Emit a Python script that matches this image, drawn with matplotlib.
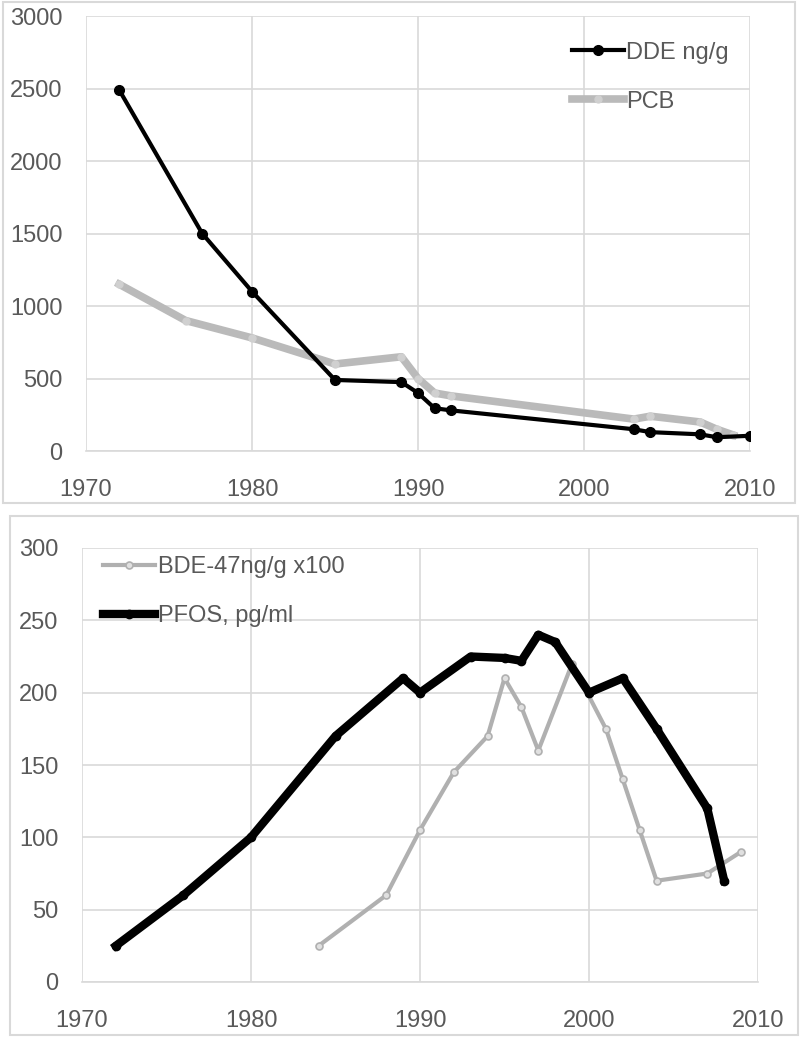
import matplotlib.pyplot as plt
from matplotlib.patches import Rectangle

# top panel: DDE and PCB
dde_years = [1972, 1977, 1980, 1985, 1989, 1990, 1991, 1992, 2003, 2004, 2007, 2008, 2010]
dde_vals = [2490, 1500, 1100, 490, 475, 400, 295, 280, 150, 130, 115, 95, 105]
pcb_years = [1972, 1976, 1980, 1985, 1989, 1990, 1991, 1992, 2003, 2004, 2007, 2008, 2009]
pcb_vals = [1150, 900, 780, 600, 650, 500, 400, 380, 220, 240, 200, 150, 110]

# bottom panel: BDE-47 and PFOS
bde_years = [1984, 1988, 1990, 1992, 1994, 1995, 1996, 1997, 1999, 2001, 2002, 2003, 2004, 2007, 2009]
bde_vals = [25, 60, 105, 145, 170, 210, 190, 160, 220, 175, 140, 105, 70, 75, 90]
pfos_years = [1972, 1976, 1980, 1985, 1989, 1990, 1993, 1995, 1996, 1997, 1998, 2000, 2002, 2004, 2007, 2008]
pfos_vals = [25, 60, 100, 170, 210, 200, 225, 224, 222, 240, 235, 200, 210, 175, 120, 70]

x_ticks = [1970, 1980, 1990, 2000, 2010]

plt.rcParams['font.family'] = ['Liberation Sans', 'DejaVu Sans']
text_col = '#595959'
grid_col = '#d9d9d9'

fig = plt.figure(figsize=(8, 10.38), dpi=100)

# panel frames
fig.patches.append(Rectangle((3 / 800, 1 - 503 / 1038), 792 / 800, 501 / 1038,
                             transform=fig.transFigure, fill=False, edgecolor=grid_col, lw=1.5))
fig.patches.append(Rectangle((10 / 800, 1 - 1035 / 1038), 788 / 800, 519 / 1038,
                             transform=fig.transFigure, fill=False, edgecolor=grid_col, lw=1.5))

ax1 = fig.add_axes([86 / 800, 1 - 451 / 1038, 664 / 800, 435 / 1038])
ax2 = fig.add_axes([82 / 800, 1 - 982 / 1038, 676 / 800, 434 / 1038])


def style(ax, ymax, ystep):
    ax.set_xlim(1970, 2010)
    ax.set_ylim(0, ymax)
    ax.set_xticks(x_ticks)
    ax.set_yticks(range(0, ymax + 1, ystep))
    ax.grid(True, color=grid_col, lw=1.2)
    ax.set_axisbelow(True)
    for s in ['top', 'right', 'left']:
        ax.spines[s].set_visible(False)
    ax.spines['bottom'].set_color(grid_col)
    ax.spines['bottom'].set_linewidth(1.2)
    ax.tick_params(length=0, labelsize=17, labelcolor=text_col)
    ax.tick_params(axis='x', pad=20)
    ax.tick_params(axis='y', pad=17)


ax1.plot(pcb_years, pcb_vals, color='#bababa', lw=5.5, marker='o', ms=5,
         mfc='#d0d0d0', mec='#d0d0d0', label='PCB', zorder=2)
ax1.plot(dde_years, dde_vals, color='black', lw=3, marker='o', ms=7,
         label='DDE ng/g', zorder=3)
style(ax1, 3000, 500)
h, l = ax1.get_legend_handles_labels()
ax1.legend(h[::-1], l[::-1], loc='upper right', bbox_to_anchor=(1.0, 0.99), frameon=False,
           fontsize=17, labelcolor=text_col, handlelength=2.2, handletextpad=0.1,
           labelspacing=1.15)

ax2.plot(bde_years, bde_vals, color='#b0b0b0', lw=3, marker='o', ms=5,
         mfc='#e0e0e0', mec='#b0b0b0', mew=1.2, label='BDE-47ng/g x100', zorder=2)
ax2.plot(pfos_years, pfos_vals, color='black', lw=6, marker='o', ms=6,
         label='PFOS, pg/ml', zorder=3)
style(ax2, 300, 50)
ax2.legend(loc='upper left', bbox_to_anchor=(0.0, 1.03), frameon=False,
           fontsize=17, labelcolor=text_col, handlelength=2.2, handletextpad=0.1,
           labelspacing=1.15)

fig.savefig('out.png', dpi=100)
